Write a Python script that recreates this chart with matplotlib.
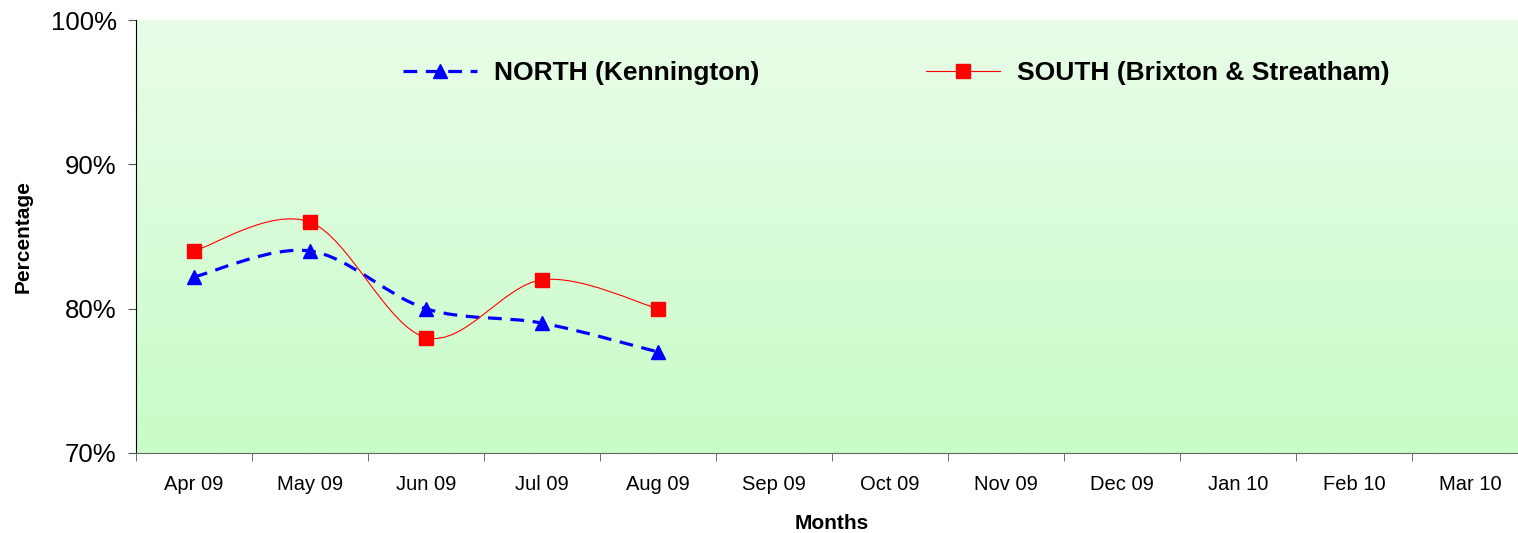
import numpy as np
import matplotlib.pyplot as plt
from matplotlib.path import Path
from matplotlib.patches import PathPatch
from matplotlib.lines import Line2D
from matplotlib.colors import LinearSegmentedColormap

plt.rcParams['font.family'] = ['Liberation Sans', 'DejaVu Sans']

# ── data ────────────────────────────────────────────────────────────
months = ["Apr 09", "May 09", "Jun 09", "Jul 09", "Aug 09", "Sep 09",
          "Oct 09", "Nov 09", "Dec 09", "Jan 10", "Feb 10", "Mar 10"]
north = [82.2, 84.0, 80.0, 79.0, 77.0]
south = [84.0, 86.0, 78.0, 82.0, 80.0]
y_ticks = [70, 80, 90, 100]


def smooth_path(xs, ys):
    """Excel-style smoothed line: cubic Bezier through the points."""
    pts = np.column_stack([xs, ys]).astype(float)
    ext = np.vstack([pts[0], pts, pts[-1]])
    verts = [pts[0]]
    codes = [Path.MOVETO]
    for i in range(len(pts) - 1):
        p0, p1, p2, p3 = ext[i], ext[i + 1], ext[i + 2], ext[i + 3]
        verts += [p1 + (p2 - p0) / 6, p2 - (p3 - p1) / 6, p2]
        codes += [Path.CURVE4] * 3
    return Path(verts, codes)


fig = plt.figure(figsize=(15.18, 5.33), dpi=100)
ax = fig.add_axes([136 / 1518, 1 - 453 / 533, 1392 / 1518, 433 / 533])

# gradient background
cmap = LinearSegmentedColormap.from_list("bg", ["#c8fcc8", "#e8fde8"])
ax.imshow(np.linspace(0, 1, 256).reshape(-1, 1), cmap=cmap, origin="lower",
          aspect="auto", extent=(0, 1, 0, 1), transform=ax.transAxes, zorder=0)

x = np.arange(len(north))

# NORTH
ax.add_patch(PathPatch(smooth_path(x, north), fill=False, edgecolor="#0000ff",
                       lw=2.3, linestyle=(0, (4.3, 2.7)), zorder=2))
ax.plot(x, north, linestyle="none", marker="^", color="#0000ff",
        markersize=10, zorder=3)

# SOUTH
ax.add_patch(PathPatch(smooth_path(x, south), fill=False, edgecolor="#ff0000",
                       lw=0.8, zorder=2))
ax.plot(x, south, linestyle="none", marker="s", color="#ff0000",
        markersize=9.5, zorder=3)

ax.set_xlim(-0.5, len(months) - 0.5)
ax.set_ylim(70, 100)
ax.set_yticks(y_ticks)
ax.set_yticklabels([f"{v}%" for v in y_ticks], fontsize=18.5)
ax.set_xticks(np.arange(len(months)))
ax.set_xticklabels(months, fontsize=14.5)
ax.set_xticks(np.arange(len(months) + 1) - 0.5, minor=True)
ax.tick_params(axis="x", which="major", length=0, pad=16)
ax.tick_params(axis="x", which="minor", length=6, color="#555555", direction="out")
ax.tick_params(axis="y", length=6, color="#555555", pad=8)

for side in ["top", "right"]:
    ax.spines[side].set_visible(False)
ax.spines["left"].set_color("black")
ax.spines["bottom"].set_color("#666666")

ax.set_ylabel("Percentage", fontsize=15, fontweight="bold")
ax.yaxis.set_label_coords(-0.074, 0.5)
ax.set_xlabel("Months", fontsize=15, fontweight="bold", labelpad=14)

handles = [
    Line2D([], [], color="#0000ff", lw=2.3, linestyle=(0, (4.3, 2.7)),
           marker="^", markersize=10),
    Line2D([], [], color="#ff0000", lw=0.8, marker="s", markersize=9.5),
]
ax.legend(handles, ["NORTH (Kennington)", "SOUTH (Brixton & Streatham)"],
          ncol=2, frameon=False, loc="center left",
          bbox_to_anchor=(0.192, 0.877), borderpad=0, borderaxespad=0,
          handlelength=2.8, handletextpad=0.65, columnspacing=6.3,
          prop={"size": 19, "weight": "bold"})

fig.savefig("out.png", dpi=100)
